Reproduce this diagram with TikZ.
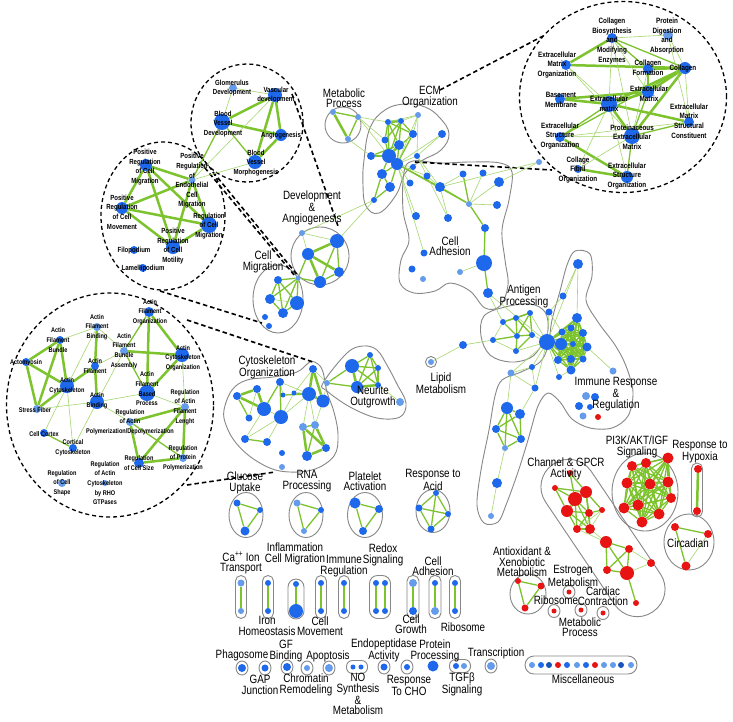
\documentclass[tikz,border=0pt]{standalone}
\usepackage{fontspec}
\setmainfont[FakeStretch=0.82]{Liberation Sans}
\usetikzlibrary{shapes.geometric}
\pgfdeclarelayer{bg}\pgfdeclarelayer{edges}
\pgfsetlayers{bg,edges,main}
\definecolor{nb}{RGB}{30,105,235}
\definecolor{nl}{RGB}{100,155,235}
\definecolor{nr}{RGB}{232,20,20}
\definecolor{eg}{RGB}{125,195,45}
\definecolor{el}{RGB}{165,215,110}
\definecolor{ol}{RGB}{135,135,135}
\tikzset{
 vb/.style={circle,fill=nb,inner sep=0pt,minimum size=#1},
 vl/.style={circle,fill=nl,inner sep=0pt,minimum size=#1},
 vr/.style={circle,fill=nr,inner sep=0pt,minimum size=#1},
 ea/.style={draw=el,line width=0.6pt},
 eb/.style={draw=eg,line width=1.3pt},
 ec/.style={draw=eg,line width=2.5pt},
 zc/.style={ellipse,draw=black,line width=1.3pt,dash pattern=on 4pt off 3pt,inner sep=0pt},
 dl/.style={draw=black,line width=1.6pt,dash pattern=on 4.5pt off 3pt},
 blob/.style={draw=ol,line width=0.9pt},
 gring/.style={ellipse,draw=ol,line width=0.9pt,inner sep=0pt},
 pillb/.style={draw=ol,line width=0.9pt,rounded corners=#1,inner sep=0pt},
 ml/.style={font=\fontsize{12}{10.5}\selectfont,align=center,inner sep=0pt},
 sl/.style={font=\fontsize{7.4}{9.6}\selectfont\bfseries,align=center,inner sep=0pt},
 ul/.style={font=\fontsize{7.7}{9.7}\selectfont\bfseries,align=center,inner sep=0pt},
 tl/.style={font=\fontsize{6.8}{9.7}\selectfont\bfseries,align=center,inner sep=0pt},
}
\begin{document}
\begin{tikzpicture}[x=1pt,y=-1pt]
\begin{pgfonlayer}{bg}
\fill[white] (0,0) rectangle (733,721);
\end{pgfonlayer}
\useasboundingbox (0,0) rectangle (733,721);

% ================= zoom circles =================
\begin{pgfonlayer}{bg}
\node[zc,minimum width=207,minimum height=191] (trc) at (623,97) {};
\node[zc,minimum width=112,minimum height=118] (vcc) at (247,123) {};
\node[zc,minimum width=124,minimum height=148] (mcc) at (163,216) {};
\node[zc,minimum width=207,minimum height=224] (ccc) at (110,405) {};
\end{pgfonlayer}

% top right circle nodes
\node[vb=10] (t1) at (612,38) {};
\node[vl=10] (t2) at (668,35) {};
\node[vb=10] (t3) at (566,65) {};
\node[vb=10] (t4) at (648,69) {};
\node[vb=12] (t5) at (685,68) {};
\node[vb=12] (t6) at (648,92) {};
\node[vb=10] (t7) at (560,99) {};
\node[vb=16] (t8) at (609,104) {};
\node[vb=10] (t9) at (689,122) {};
\node[vb=10] (t10) at (560,137) {};
\node[vb=16] (t11) at (632,136) {};
\node[vb=8] (t12) at (578,169) {};
\node[vb=12] (t13) at (627,177) {};
\node[ul] (t1l) at (612,41) {Collagen\\Biosynthesis\\and\\Modifying\\Enzymes};
\node[ul] (t2l) at (667,36) {Protein\\Digestion\\and\\Absorption};
\node[ul] (t3l) at (557,65) {Extracellular\\Matrix\\Organization};
\node[ul] (t4l) at (648,68) {Collagen\\Formation};
\node[ul] (t5l) at (683,69) {Collagen};
\node[ul] (t6l) at (649,94) {Extracellular\\Matrix};
\node[ul] (t7l) at (561,100) {Basement\\Membrane};
\node[ul] (t8l) at (609,104) {Extracellular\\matrix};
\node[ul] (t9l) at (689,121) {Extracellular\\Matrix\\Structural\\Constituent};
\node[ul] (t10l) at (560,136) {Extracellular\\Structure\\Organization};
\node[ul] (t11l) at (632,137) {Proteinaceous\\Extracellular\\Matrix};
\node[ul] (t12l) at (578,170) {Collage\\Fibril\\Organization};
\node[ul] (t13l) at (627,176) {Extracellular\\Structure\\Organization};

% vascular circle
\node[vl=8] (v1) at (233,88) {};
\node[vb=14] (v2) at (275,95) {};
\node[vb=16] (v3) at (222,122) {};
\node[vb=12] (v4) at (281,135) {};
\node[vb=14] (v5) at (255,162) {};
\node[sl] (v1l) at (232,88) {Glomerulus\\Development};
\node[sl] (v2l) at (276,95) {Vascular\\development};
\node[sl] (v3l) at (223,124) {Blood\\Vessel\\Development};
\node[sl] (v4l) at (281,136) {Angiogenesis};
\node[sl] (v5l) at (256,163) {Blood\\Vessel\\Morphogenesis};

% cell migration circle
\node[vb=12] (m1) at (146,165) {};
\node[vl=7] (m2) at (192,180) {};
\node[vb=12] (m3) at (122,208) {};
\node[vb=16] (m4) at (209,225) {};
\node[vb=14] (m5) at (173,247) {};
\node[vb=8] (m6) at (134,250) {};
\node[vb=8] (m7) at (143,268) {};
\node[sl] (m1l) at (145,167) {Positive\\Regulation\\of Cell\\Migration};
\node[sl] (m2l) at (192,181) {Positive\\Regulation\\of\\Endothelial\\Cell\\Migration};
\node[sl] (m3l) at (122,212) {Positive\\Regulation\\of Cell\\Movement};
\node[sl] (m4l) at (209,226) {Regulation\\of Cell\\Migration};
\node[sl] (m5l) at (173,246) {Positive\\Regulation\\of Cell\\Motility};
\node[sl] (m6l) at (134,251) {Filopodium};
\node[sl] (m7l) at (143,269) {Lamellipodium};

% cytoskeleton circle
\node[vb=10] (c1) at (149,312) {};
\node[vl=8] (c2) at (97,327) {};
\node[vb=8] (c3) at (60,340) {};
\node[vl=8] (c4) at (124,351) {};
\node[vb=14] (c5) at (182,355) {};
\node[vb=8] (c6) at (26,362) {};
\node[vb=8] (c7) at (95,366) {};
\node[vb=14] (c8) at (67,386) {};
\node[vb=16] (c9) at (147,393) {};
\node[vb=14] (c10) at (97,402) {};
\node[vl=8] (c11) at (37,409) {};
\node[vl=8] (c12) at (185,407) {};
\node[vl=8] (c13) at (130,422) {};
\node[vb=8] (c14) at (44,433) {};
\node[vb=8] (c15) at (73,448) {};
\node[vb=10] (c16) at (139,463) {};
\node[vl=8] (c17) at (183,458) {};
\node[vl=8] (c18) at (62,483) {};
\node[vl=6] (c19) at (105,483) {};
\node[tl] (c1l) at (150,312) {Actin\\Filament\\Organization};
\node[tl] (c2l) at (97,327) {Actin\\Filament\\Binding};
\node[tl] (c3l) at (58,340) {Actin\\Filament\\Bundle};
\node[tl] (c4l) at (124,351) {Actin\\Filament\\Bundle\\Assembly};
\node[tl] (c5l) at (183,358) {Actin\\Cytoskeleton\\Organization};
\node[tl] (c6l) at (26,363) {Actomyosin};
\node[tl] (c7l) at (95,366) {Actin\\Filament};
\node[tl] (c8l) at (67,386) {Actin\\Cytoskeleton};
\node[tl] (c9l) at (147,389) {Actin\\Filament\\Based\\Process};
\node[tl] (c10l) at (97,401) {Actin\\Binding};
\node[tl] (c11l) at (35,410) {Stress Fiber};
\node[tl] (c12l) at (185,407) {Regulation\\of Actin\\Filament\\Lenght};
\node[tl] (c13l) at (130,422) {Regulation\\of Actin\\Polymerization/Depolymerization};
\node[tl] (c14l) at (44,434) {Cell Cortex};
\node[tl] (c15l) at (73,448) {Cortical\\Cytoskeleton};
\node[tl] (c16l) at (139,463) {Regulation\\of Cell Size};
\node[tl] (c17l) at (183,458) {Regulation\\of Protein\\Polymerization};
\node[tl] (c18l) at (62,483) {Regulation\\of Cell\\Shape};
\node[tl] (c19l) at (105,483) {Regulation\\of Actin\\Cytoskeleton\\by RHO\\GTPases};

% ================= main network =================
\begin{pgfonlayer}{bg}
\node[gring,minimum width=36,minimum height=36] (mpc) at (343,125) {};
\draw[blob] plot[smooth cycle,tension=0.7] coordinates {(385,110) (405,104) (425,107) (440,118) (449,134) (441,150) (423,160) (406,172) (396,195) (379,213) (366,206) (363,185) (364,160) (370,128)};
\draw[blob] plot[smooth cycle,tension=0.6] coordinates {(404,172) (413,161) (440,163) (470,162) (500,163) (512,172) (509,200) (502,230) (505,260) (508,285) (500,306) (485,308) (470,291) (450,283) (435,291) (414,293) (400,283) (401,260) (409,240) (403,210)};
\node[gring,minimum width=58,minimum height=58] (dac) at (320,256) {};
\node[gring,minimum width=50,minimum height=68] (cmc) at (278,299) {};
\draw[blob] plot[smooth cycle,tension=0.6] coordinates {(224,410) (232,390) (247,380) (273,377) (297,372) (310,362) (318,364) (323,372) (327,392) (334,412) (338,435) (334,456) (312,470) (280,471) (255,460) (236,443) (226,425)};
\draw[blob] plot[smooth cycle,tension=0.6] coordinates {(323,383) (347,353) (363,346) (377,350) (388,367) (397,384) (406,403) (400,417) (377,418) (350,407) (327,391)};
\draw[blob] plot[smooth cycle,tension=0.6] coordinates {(484,316) (505,307) (530,304) (545,312) (548,330) (541,346) (530,358) (510,362) (490,355) (481,336)};
\draw[blob] plot[smooth cycle,tension=0.55] coordinates {(575,251) (590,254) (592,276) (586,300) (598,322) (615,345) (626,366) (633,392) (628,416) (612,428) (590,428) (572,419) (560,402) (548,393) (538,406) (528,440) (518,472) (506,505) (498,522) (484,523) (477,505) (481,470) (489,430) (495,396) (502,380) (521,372) (540,362) (548,346) (552,320) (560,291) (567,265)};
\end{pgfonlayer}
\node[vl=6] (mp1) at (333,112) {};
\node[vl=6] (mp2) at (358,117) {};
\node[vl=6] (mp3) at (348,139) {};
\node[ml] (mpl) at (344,98) {Metabolic\\Process};

% ECM
\node[vb=6] (e1) at (388,122) {};
\node[vb=6] (e2) at (401,121) {};
\node[vl=6] (e3) at (418,115) {};
\node[vb=8] (e4) at (442,134) {};
\node[vb=7] (e5) at (385,140) {};
\node[vb=8] (e6) at (413,134) {};
\node[vb=10] (e7) at (399,145) {};
\node[vb=8] (e8) at (371,156) {};
\node[vb=14] (e9) at (389,156) {};
\node[vb=12] (e10) at (397,164) {};
\node[vb=6] (e11) at (417,156) {};
\node[vb=10] (e12) at (382,174) {};
\node[vb=10] (e13) at (390,187) {};
\node[vb=6] (e14) at (374,200) {};
\node[ml] (ecl) at (430,97) {ECM\\Organization};

% Dev & Angiogenesis
\node[vl=6] (d1) at (302,233) {};
\node[vb=14] (d2) at (337,241) {};
\node[vb=12] (d3) at (308,254) {};
\node[vb=10] (d4) at (339,272) {};
\node[vb=12] (d5) at (320,282) {};
\node[vl=5] (d6) at (298,278) {};
\node[ml] (dal) at (312,208) {Development\\\&\\Angiogenesis};

% Cell Migration
\node[vb=8] (g1) at (278,280) {};
\node[vb=10] (g2) at (270,299) {};
\node[vb=14] (g3) at (297,303) {};
\node[vb=10] (g4) at (283,313) {};
\node[vb=6] (g5) at (265,317) {};
\node[vb=6] (g6) at (269,326) {};
\node[ml] (cml) at (263,262) {Cell\\Migration};

% Cell adhesion
\node[vl=6] (a0) at (539,162) {};
\node[vb=6] (a1) at (413,167) {};
\node[vb=7] (a2) at (427,176) {};
\node[vb=7] (a3) at (410,183) {};
\node[vb=10] (a4) at (440,187) {};
\node[vb=7] (a5) at (463,174) {};
\node[vb=7] (a6) at (483,173) {};
\node[vb=10] (a7) at (499,182) {};
\node[vl=6] (a8) at (469,204) {};
\node[vb=8] (a9) at (497,205) {};
\node[vb=8] (a10) at (416,216) {};
\node[vb=8] (a11) at (448,218) {};
\node[vb=8] (a12) at (485,228) {};
\node[vb=7] (a13) at (424,253) {};
\node[vb=16] (a14) at (484,263) {};
\node[vl=6] (a15) at (460,272) {};
\node[vb=7] (a16) at (412,269) {};
\node[vl=6] (a17) at (423,279) {};
\node[vb=10] (a18) at (488,293) {};
\node[ml] (cal) at (450,246) {Cell\\Adhesion};

% Antigen processing and big cluster
\node[vb=6] (p1) at (503,322) {};
\node[vb=6] (p2) at (516,318) {};
\node[vb=6] (p3) at (530,313) {};
\node[vb=6] (p4) at (493,340) {};
\node[vb=6] (p5) at (517,336) {};
\node[vb=6] (p6) at (532,335) {};
\node[vb=6] (p7) at (516,351) {};
\node[ml] (apl) at (524,296) {Antigen\\Processing};
\node[vb=16] (h0) at (547,342) {};
\node[vb=12] (q0) at (561,344) {};
\node[vb=10] (q1) at (577,318) {};
\node[vb=8] (q2) at (583,333) {};
\node[vb=9] (q3) at (587,347) {};
\node[vb=7] (q4) at (583,359) {};
\node[vb=8] (q5) at (571,359) {};
\node[vb=9] (q6) at (571,370) {};
\node[vb=8] (q7) at (558,360) {};
\node[vb=7] (q8) at (562,332) {};
\node[vb=7] (q9) at (571,328) {};
\node[vb=6] (q10) at (573,344) {};
\node[vb=10] (u1) at (578,264) {};
\node[vb=7] (u2) at (563,296) {};
\node[vb=7] (u3) at (549,312) {};
\node[vl=7] (u4) at (613,371) {};
\node[vb=6] (u5) at (559,377) {};
\node[vb=6] (u6) at (532,367) {};
\node[vl=7] (u7) at (511,373) {};
\node[vb=7] (u8) at (535,388) {};
\node[vb=8] (w0) at (463,345) {};
\node[vb=12] (w1) at (507,408) {};
\node[vb=10] (w2) at (520,414) {};
\node[vb=8] (w3) at (496,429) {};
\node[vb=8] (w4) at (521,439) {};
\node[vl=6] (w5) at (505,448) {};
\node[vb=10] (w6) at (497,483) {};
\node[vl=6] (w7) at (491,516) {};
\node[vl=8] (i1) at (586,396) {};
\node[vb=8] (i2) at (595,397) {};
\node[vb=8] (i3) at (579,406) {};
\node[vb=6] (i4) at (590,407) {};
\node[vl=7] (i5) at (583,416) {};
\node[vr=6] (i6) at (598,417) {};
\node[ml] (iml) at (616,394) {Immune Response\\\&\\Regulation};

% Lipid
\node[gring,minimum width=11,minimum height=11] (lpc) at (431,362) {};
\node[vl=6] (lp) at (431,362) {};
\node[ml] (lpl) at (441,383) {Lipid\\Metabolism};

% Cytoskeleton organization
\node[vb=8] (k1) at (313,369) {};
\node[vb=8] (k2) at (280,382) {};
\node[vb=8] (k3) at (257,389) {};
\node[vb=8] (k4) at (237,396) {};
\node[vb=5] (k5) at (283,395) {};
\node[vb=5] (k6) at (294,393) {};
\node[vb=14] (k7) at (309,394) {};
\node[vb=13] (k8) at (323,401) {};
\node[vb=14] (k9) at (264,409) {};
\node[vb=14] (k10) at (281,417) {};
\node[vb=7] (k11) at (249,418) {};
\node[vl=8] (k12) at (303,427) {};
\node[vl=8] (k13) at (315,425) {};
\node[vb=8] (k14) at (245,439) {};
\node[vb=8] (k15) at (267,442) {};
\node[vb=8] (k16) at (326,448) {};
\node[vb=10] (k17) at (307,456) {};
\node[vb=6] (k18) at (282,453) {};
\node[vl=6] (k19) at (282,467) {};
\node[ml] (col) at (267,367) {Cytoskeleton\\Organization};

% Neurite outgrowth
\node[vl=6] (n0) at (327,383) {};
\node[vb=14] (n1) at (352,366) {};
\node[vb=6] (n2) at (370,355) {};
\node[vb=6] (n3) at (378,368) {};
\node[vb=12] (n4) at (357,387) {};
\node[vb=6] (n5) at (378,385) {};
\node[vl=8] (n6) at (400,402) {};
\node[ml] (nel) at (373,397) {Neurite\\Outgrowth};

% ================= lower left groups =================
\begin{pgfonlayer}{bg}
\node[gring,minimum width=34,minimum height=45] (glc) at (246,515) {};
\node[gring,minimum width=34,minimum height=45] (rnc) at (306,515) {};
\node[gring,minimum width=35,minimum height=45] (ptc) at (365,515) {};
\node[gring,minimum width=34,minimum height=43] (acc) at (433,511) {};
\end{pgfonlayer}
\node[vb=7] (gl1) at (237,503) {};
\node[vb=6] (gl2) at (260,510) {};
\node[vb=9] (gl3) at (245,531) {};
\node[vl=7] (rn1) at (297,503) {};
\node[vb=6] (rn2) at (321,510) {};
\node[vl=6] (rn3) at (304,531) {};
\node[vb=11] (pt1) at (355,503) {};
\node[vb=8] (pt2) at (379,509) {};
\node[vb=8] (pt3) at (363,531) {};
\node[vb=6] (ac1) at (436,493) {};
\node[vb=7] (ac2) at (419,508) {};
\node[vb=6] (ac3) at (448,514) {};
\node[vb=7] (ac4) at (431,529) {};
\node[ml] (gll) at (245,483) {Glucose\\Uptake};
\node[ml] (rnl) at (307,481) {RNA\\Processing};
\node[ml] (ptl) at (365,481) {Platelet\\Activation};
\node[ml] (acl) at (433,480) {Response to\\Acid};

% pills
\begin{pgfonlayer}{bg}
\node[pillb=5.5,minimum width=11,minimum height=43] (pl1) at (241,597) {};
\node[pillb=5.5,minimum width=11,minimum height=43] (pl2) at (268,597) {};
\node[pillb=8,minimum width=16,minimum height=40] (pl3) at (296,599) {};
\node[pillb=5.5,minimum width=11,minimum height=43] (pl4) at (321,597) {};
\node[pillb=5.5,minimum width=11,minimum height=43] (pl5) at (344,597) {};
\node[pillb=8,minimum width=21,minimum height=43] (pl6) at (380,597) {};
\node[pillb=5.5,minimum width=12,minimum height=43] (pl7) at (413,597) {};
\node[pillb=5.5,minimum width=12,minimum height=43] (pl8) at (435,597) {};
\node[pillb=5.5,minimum width=11,minimum height=43] (pl9) at (455,597) {};
\end{pgfonlayer}
\node[vl=7] (pa1) at (241,583) {};  \node[vl=6] (pb1) at (241,611) {};
\node[vb=6] (pa2) at (268,583) {};  \node[vb=6] (pb2) at (268,611) {};
\node[vb=6] (pa3) at (296,584) {};  \node[vb=14] (pb3) at (296,611) {};
\node[vb=6] (pa4) at (321,583) {};  \node[vb=6] (pb4) at (321,611) {};
\node[vb=6] (pa5) at (344,583) {};  \node[vb=6] (pb5) at (344,611) {};
\node[vb=6] (pa6) at (376,583) {};  \node[vb=6] (pb6) at (376,611) {};
\node[vb=6] (pa7) at (385,583) {};  \node[vb=6] (pb7) at (385,611) {};
\node[vl=8] (pa8) at (413,583) {};  \node[vb=8] (pb8) at (413,611) {};
\node[vb=6] (pa9) at (435,583) {};  \node[vl=8] (pb9) at (435,611) {};
\node[vb=6] (pa10) at (455,583) {}; \node[vb=6] (pb10) at (455,611) {};
\node[ml] (cal1) at (241,563) {Ca\textsuperscript{++} Ion\\Transport};
\node[ml] (inl) at (295,554) {Inflammation\\Cell Migration};
\node[ml] (irl) at (344,566) {Immune\\Regulation};
\node[ml] (rdl) at (383,555) {Redox\\Signaling};
\node[ml] (cal2) at (433,566) {Cell\\Adhesion};
\node[ml] (irol) at (267,626) {Iron\\Homeostasis};
\node[ml] (cmvl) at (320,626) {Cell\\Movement};
\node[ml] (cgl) at (411,624) {Cell\\Growth};
\node[ml] (ribl) at (463,627) {Ribosome};

% bottom rings
\node[gring,minimum width=12,minimum height=14] (phc) at (242,668) {};
\node[vb=8] (ph) at (242,668) {};
\node[gring,minimum width=12,minimum height=14] (gjc) at (265,668) {};
\node[vb=7] (gj) at (265,668) {};
\node[gring,minimum width=12,minimum height=14] (gfc) at (287,667) {};
\node[vb=8] (gf) at (287,667) {};
\node[gring,minimum width=12,minimum height=14] (chc) at (307,668) {};
\node[vl=6] (ch) at (307,668) {};
\node[gring,minimum width=12,minimum height=14] (apc) at (329,668) {};
\node[vl=8] (ap) at (329,668) {};
\node[pillb=6,minimum width=21,minimum height=13] (noc) at (357,667) {};
\node[vb=5] (no1) at (353,667) {};
\node[vb=5] (no2) at (361,667) {};
\node[gring,minimum width=12,minimum height=14] (enc) at (384,667) {};
\node[vb=7] (en) at (384,667) {};
\node[gring,minimum width=12,minimum height=14] (rcc) at (407,667) {};
\node[vb=6] (rc) at (407,667) {};
\node[vb=11] (pp) at (433,666) {};
\node[pillb=6,minimum width=21,minimum height=13] (tgc) at (460,666) {};
\node[vb=6] (tg1) at (456,666) {};
\node[vl=6] (tg2) at (464,666) {};
\node[gring,minimum width=12,minimum height=14] (trc2) at (491,666) {};
\node[vl=8] (tr) at (491,666) {};
\node[ml] (phl) at (242,655) {Phagosome};
\node[ml] (gjl) at (260,685) {GAP\\Junction};
\node[ml] (gfl) at (286,651) {GF\\Binding};
\node[ml] (chl) at (306,685) {Chromatin\\Remodeling};
\node[ml] (apl2) at (328,656) {Apoptosis};
\node[ml] (nol) at (358,694) {NO\\Synthesis\\\&\\Metabolism};
\node[ml] (enl) at (384,650) {Endopeptidase\\Activity};
\node[ml] (rcl) at (409,685) {Response\\To CHO};
\node[ml] (ppl) at (435,651) {Protein\\Processing};
\node[ml] (tgl) at (462,684) {TGFβ\\Signaling};
\node[ml] (trl) at (496,653) {Transcription};

% miscellaneous
\node[pillb=9,minimum width=112,minimum height=18] (msc) at (581,665) {};
\foreach \n/\x/\c in {1/532/nl,2/541/nb,3/549/nb!80!black,4/558/nr,5/567/nb,6/577/nl,7/586/nb,8/595/nr,9/604/nl,10/613/nl,11/621/nb!80!black,12/631/nl}
  \node[circle,fill=\c,inner sep=0pt,minimum size=6] (ms\n) at (\x,665) {};
\node[ml] (msl) at (583,679) {Miscellaneous};

% ================= lower right (red) =================
\begin{pgfonlayer}{bg}
\node[draw=ol,line width=0.9pt,rounded corners=27pt,minimum width=178,minimum height=55,rotate=-56] (chb) at (603,538) {};
\node[gring,minimum width=66,minimum height=78] (pic) at (645,492) {};
\node[pillb=5.5,minimum width=11,minimum height=54] (hyc) at (697,490) {};
\node[gring,minimum width=50,minimum height=56] (cic) at (689,542) {};
\node[gring,minimum width=36,minimum height=40] (axc) at (528,594) {};
\end{pgfonlayer}
\node[vr=6] (r1) at (555,488) {};
\node[vr=6] (r2) at (570,473) {};
\node[vr=14] (r3) at (575,499) {};
\node[vr=12] (r4) at (586,492) {};
\node[vr=12] (r5) at (567,511) {};
\node[vr=8] (r6) at (589,513) {};
\node[vr=6] (r7) at (602,510) {};
\node[vr=8] (r8) at (577,529) {};
\node[vr=10] (r9) at (590,529) {};
\node[vr=12] (r10) at (606,542) {};
\node[vr=8] (r11) at (629,549) {};
\node[vr=8] (r12) at (607,570) {};
\node[vr=14] (r13) at (627,573) {};
\node[vr=8] (r14) at (651,563) {};
\node[vr=6] (r15) at (636,603) {};
\node[ml] (chl2) at (566,469) {Channel \& GPCR\\Activity};
\node[vr=10] (s1) at (632,466) {};
\node[vr=10] (s2) at (646,463) {};
\node[vr=11] (s3) at (668,458) {};
\node[vr=11] (s4) at (627,483) {};
\node[vr=11] (s5) at (650,484) {};
\node[vr=11] (s6) at (668,482) {};
\node[vr=10] (s7) at (671,498) {};
\node[vr=11] (s8) at (624,508) {};
\node[vr=11] (s9) at (638,505) {};
\node[vr=11] (s10) at (659,514) {};
\node[vr=11] (s11) at (642,522) {};
\node[ml] (pil) at (637,447) {PI3K/AKT/IGF\\Signaling};
\node[vr=8] (hy1) at (698,469) {};
\node[vr=8] (hy2) at (697,511) {};
\node[ml] (hyl) at (700,452) {Response to\\Hypoxia};
\node[vr=8] (ci1) at (675,527) {};
\node[vr=8] (ci2) at (708,534) {};
\node[vr=9] (ci3) at (686,566) {};
\node[ml] (cil) at (688,543) {Circadian};
\node[vr=6] (x1) at (518,581) {};
\node[vr=7] (x2) at (541,586) {};
\node[vr=7] (x3) at (525,608) {};
\node[ml] (axl) at (522,562) {Antioxidant \&\\Xenobiotic\\Metabolism};
\node[gring,minimum width=12,minimum height=13] (esc) at (569,592) {};
\node[vr=5] (es) at (569,592) {};
\node[gring,minimum width=12,minimum height=13] (rbc) at (554,611) {};
\node[vr=5] (rb) at (554,611) {};
\node[gring,minimum width=12,minimum height=13] (mpc2) at (581,610) {};
\node[vr=5] (mq) at (581,610) {};
\node[gring,minimum width=12,minimum height=13] (cdc) at (603,613) {};
\node[vr=5] (cd) at (603,613) {};
\node[ml] (esl) at (573,576) {Estrogen\\Metabolism};
\node[ml] (rbl) at (556,600) {Ribosome};
\node[ml] (cdl) at (603,596) {Cardiac\\Contraction};
\node[ml] (mql) at (580,627) {Metabolic\\Process};

% ================= dashed connectors =================
\coordinate (z1a) at (440,90);  \coordinate (z1b) at (543,36);
\coordinate (z2a) at (415,162); \coordinate (z2b) at (552,170);
\coordinate (z3a) at (292,94);  \coordinate (z3b) at (338,226);
\coordinate (z4a) at (200,162); \coordinate (z4b) at (295,276);
\coordinate (z5a) at (213,172); \coordinate (z5b) at (299,277);
\coordinate (z6a) at (160,291); \coordinate (z6b) at (262,323);
\coordinate (z7a) at (187,320); \coordinate (z7b) at (313,362);
\coordinate (z8a) at (187,485); \coordinate (z8b) at (275,472);
\begin{pgfonlayer}{bg}
\foreach \a/\b in {z1a/z1b,z2a/z2b,z3a/z3b,z4a/z4b,z5a/z5b,z6a/z6b,z7a/z7b,z8a/z8b}
  \draw[dl] (\a) -- (\b);
\end{pgfonlayer}

% ================= edges =================
\begin{pgfonlayer}{edges}
\foreach \a/\b in {t1/t3,t3/t5,t5/t6,t5/t8,t5/t11,t6/t8,t7/t8,t7/t6,t8/t9,t8/t11,t10/t13,t12/t13,t4/t5} \draw[ec] (\a) -- (\b);
\foreach \a/\b in {t1/t4,t1/t5,t4/t6,t5/t10,t6/t11,t9/t11,t10/t8,t11/t13} \draw[eb] (\a) -- (\b);
\foreach \a/\b in {t1/t6,t1/t8,t1/t11,t1/t2,t2/t5,t2/t9,t3/t8,t3/t11,t4/t11,t5/t9,t8/t13,t9/t10,t10/t11,t11/t12,t12/t8} \draw[ea] (\a) -- (\b);
\foreach \a/\b in {v2/v3,v2/v4,v2/v5,v3/v4,v4/v5} \draw[ec] (\a) -- (\b);
\foreach \a/\b in {v3/v5,v3/m2} \draw[eb] (\a) -- (\b);
\foreach \a/\b in {v1/v2,v1/v3,v2/m2,v5/m2} \draw[ea] (\a) -- (\b);
\foreach \a/\b in {m1/m2,m1/m3,m1/m4,m1/m5,m3/m2,m3/m4,m3/m5,m4/m5,m2/m4,m2/m5} \draw[ec] (\a) -- (\b);
\foreach \a/\b in {c1/c5,c1/c9,c3/c6,c3/c8,c3/c11,c6/c8,c6/c11,c8/c11,c8/c7,c4/c5,c5/c9,c2/c7,c7/c10,c13/c12,c13/c16,c12/c16,c12/c17,c16/c17} \draw[ec] (\a) -- (\b);
\foreach \a/\b in {c1/c4,c4/c9,c13/c17,c14/c15} \draw[eb] (\a) -- (\b);
\foreach \a/\b in {c8/c2,c8/c14,c8/c15,c10/c15,c10/c13,c9/c12,c5/c12,c9/c10,c11/c10,c2/c3,c2/c4,c4/c7,c10/c4} \draw[ea] (\a) -- (\b);
\foreach \a/\b in {mp1/mp3,e7/e9,e8/e9,e9/e10,e1/e2} \draw[ec] (\a) -- (\b);
\foreach \a/\b in {mp1/mp2,mp2/mp3,e1/e7,e2/e7,e2/e6,e1/e6,e5/e9,e6/e9,e7/e10,e6/e10,e10/e12,e10/e13,e12/e13,e9/e12,e1/e9,e2/e9,e1/e5,e2/e5,e7/e8,e13/e14,e12/e14} \draw[eb] (\a) -- (\b);
\foreach \a/\b in {e3/e10,e4/e10,e3/e11,e11/e10,e6/e3,e2/e3,e4/e11,e3/e1,mp2/e1,mp2/e5,mp3/e8,mp2/e9} \draw[ea] (\a) -- (\b);
\foreach \a/\b in {d2/d3,d3/d4,d3/d5} \draw[ec] (\a) -- (\b);
\foreach \a/\b in {d2/d4,d2/d5,d4/d5,d3/d6,d5/d6,d6/g1,d6/g2,d6/g3,d6/g4,g1/g2,g1/g3,g1/g4,g2/g4,g3/g4} \draw[eb] (\a) -- (\b);
\foreach \a/\b in {d1/d2,d1/d3,d2/e14,d1/e14,g2/g3} \draw[ea] (\a) -- (\b);
\foreach \a/\b in {e10/a4,a4/a8,e10/a8,a5/a8,a8/a12,a12/a14,a14/a18} \draw[eb] (\a) -- (\b);
\foreach \a/\b in {e10/a1,e10/a2,e10/a3,e11/a4,a4/a5,a6/a8,a7/a8,a9/a8,a14/a15,e10/a10,e10/a13,a0/a7,a0/a4,e11/a11,a4/a11,a2/a4} \draw[ea] (\a) -- (\b);
\foreach \a/\b in {p1/p2,p2/p3,p1/p5,p2/p5,p3/p5,p2/p6,p3/p6,p5/p6,p4/p5,p5/p7,p6/p7,p1/p3,w1/w2,w1/w3,w1/w4,w2/w3,w2/w4,w3/w4,w3/w5,w4/w5,w1/w5} \draw[eb] (\a) -- (\b);
\foreach \a/\b in {p4/p7,p1/p4,p6/h0,p3/h0,p7/h0,h0/u3,u3/u2,u2/u1,u1/h0,u1/q1,h0/u5,h0/u6,h0/u7,h0/u8,u4/q3,u6/u7,u7/u8,u6/u8,u7/w1,u8/w2,w0/lp,w0/p4,w5/w6,w6/w7,a18/p1,a18/h0,u5/q6,u3/q8} \draw[ea] (\a) -- (\b);
\foreach \j in {0,...,10} \draw[eb] (h0) -- (q\j);
\foreach \i in {0,...,9}{\pgfmathtruncatemacro\k{\i+1}\foreach \j in {\k,...,10}{\draw[eb] (q\i) -- (q\j);}}
\foreach \a/\b in {k4/k3,k4/k9,k3/k9,k7/k1,k7/k8,k1/k8,k12/k16,k13/k16,k12/k17,k16/k17,n1/n4,n4/n5} \draw[ec] (\a) -- (\b);
\foreach \a/\b in {k4/k11,k9/k2,k2/k10,k14/k15,k5/k7,k6/k7,k12/k13,k13/k17,n0/n1,n0/n4,n1/n2,n1/n3,n1/n5,n2/n3,n2/n4,n3/n4,n3/n5,n2/n5} \draw[eb] (\a) -- (\b);
\foreach \a/\b in {k9/k10,k9/k14,k10/k15,k10/k14,k10/k6,k1/k6,k7/k12,k7/k13,k10/k7,k2/k7,k8/k13,k8/n0,k1/n0,k3/k11,k2/k5,n5/n6} \draw[ea] (\a) -- (\b);
\foreach \a/\b in {gl1/gl2,gl1/gl3,gl2/gl3,rn1/rn2,rn1/rn3,rn2/rn3,pt1/pt2,pt1/pt3,pt2/pt3,ac1/ac2,ac1/ac3,ac2/ac4,ac3/ac4,ac2/ac3,ac1/ac4} \draw[eb] (\a) -- (\b);
\foreach \n in {1,...,10} \draw[ec] (pa\n) -- (pb\n);
\foreach \a/\b in {r1/r3,r1/r4,r3/r4,r3/r5,r3/r6,r4/r6,r4/r5,r5/r6,r5/r8,r5/r9,r6/r8,r6/r9,r8/r9,r6/r7,r4/r7,r3/r9,r3/r8,r2/r4,r2/r3,r1/r5,r4/r9,r10/r11,r10/r12,r10/r13,r11/r12,r11/r13,r12/r13,r13/r15} \draw[eb] (\a) -- (\b);
\foreach \a/\b in {r7/r9,r7/r8,r9/r10,r8/r10,r11/r14,r13/r14} \draw[ea] (\a) -- (\b);
\foreach \i in {1,...,10}{\pgfmathtruncatemacro\k{\i+1}\foreach \j in {\k,...,11}{\draw[eb] (s\i) -- (s\j);}}
\draw[ec] (hy1) -- (hy2);
\foreach \a/\b in {ci1/ci3,ci1/ci2,x1/x2,x1/x3,x2/x3} \draw[eb] (\a) -- (\b);
\draw[ea] (ci2) -- (ci3);
\end{pgfonlayer}
\end{tikzpicture}
\end{document}
